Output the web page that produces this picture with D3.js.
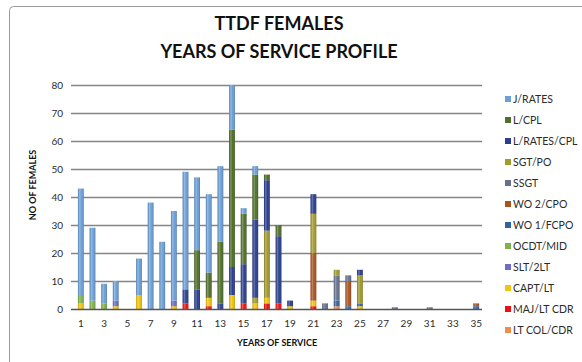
<!DOCTYPE html>
<html>
<head>
<meta charset="utf-8">
<script src="https://cdn.jsdelivr.net/npm/d3@7"></script>
<style>
    body { margin: 0; background: #fff; }
    svg { display: block; font-family: Lato, "Open Sans", sans-serif; }
</style>
</head>
<body>
<svg id="chart" width="582" height="362"></svg>
<script>
// Years of service on the x axis.
let years = d3.range(1, 36);
let xTickYears = d3.range(1, 36, 2);
let yTicks = d3.range(0, 81, 10);

// Ranks, listed as in the legend (top of stack first).
let ranks = ["J/RATES", "L/CPL", "L/RATES/CPL", "SGT/PO", "SSGT", "WO 2/CPO",
    "WO 1/FCPO", "OCDT/MID", "SLT/2LT", "CAPT/LT", "MAJ/LT CDR", "LT COL/CDR"];

let rankColours = ["#6a9fd8", "#4f7029", "#2a3f8f", "#a39a2e", "#66728c", "#a95420",
    "#2f64ad", "#7fb34a", "#6d6dc4", "#f2c40c", "#ee1111", "#ef8d4a"];

// Number of females per year of service (years 1..35) for each rank.
let jRates    = [38, 26, 7, 7, 0, 13, 38, 24, 32, 42, 26, 28, 27, 16, 2, 3, 0, 0, 0, 0, 0, 0, 0, 0, 0, 0, 0, 0, 0, 0, 0, 0, 0, 0, 0];
let lCpl      = [0, 0, 0, 0, 0, 0, 0, 0, 0, 0, 14, 9, 22, 49, 18, 16, 2, 4, 0, 0, 0, 0, 0, 0, 0, 0, 0, 0, 0, 0, 0, 0, 0, 0, 0];
let lRatesCpl = [0, 0, 0, 0, 0, 0, 0, 0, 0, 5, 7, 0, 2, 10, 14, 28, 18, 24, 2, 0, 7, 0, 0, 0, 2, 0, 0, 0, 0, 0, 0, 0, 0, 0, 0];
let sgtPo     = [0, 0, 0, 0, 0, 0, 0, 0, 0, 0, 0, 0, 0, 0, 0, 2, 24, 0, 0, 0, 14, 0, 2, 0, 10, 0, 0, 0, 0, 0, 0, 0, 0, 0, 0];
let ssgt      = [0, 0, 0, 0, 0, 0, 0, 0, 0, 0, 0, 0, 0, 0, 0, 0, 0, 0, 0, 0, 0, 2, 9, 2, 0, 0, 0, 0.6, 0, 0, 0.6, 0, 0, 0, 0];
let wo2Cpo    = [0, 0, 0, 0, 0, 0, 0, 0, 0, 0, 0, 0, 0, 0, 0, 0, 0, 0, 0, 0, 17, 0, 0, 9, 0, 0, 0, 0, 0, 0, 0, 0, 0, 0, 1];
let wo1Fcpo   = [0, 0, 0, 0, 0, 0, 0, 0, 0, 0, 0, 0, 0, 0, 0, 0, 0, 0, 0, 0, 0, 0, 2, 1, 1, 0, 0, 0, 0, 0, 0, 0, 0, 0, 1];
let ocdtMid   = [3, 3, 2, 0, 0, 0, 0, 0, 0, 0, 0, 0, 0, 0, 0, 0, 0, 0, 0, 0, 0, 0, 0, 0, 0, 0, 0, 0, 0, 0, 0, 0, 0, 0, 0];
let slt2Lt    = [0, 0, 0, 2, 0, 0, 0, 0, 2, 0, 0, 0, 0, 0, 0, 0, 0, 0, 0, 0, 0, 0, 0, 0, 0, 0, 0, 0, 0, 0, 0, 0, 0, 0, 0];
let captLt    = [2, 0, 0, 1, 0, 5, 0, 0, 1, 0, 0, 3, 0, 5, 0, 2, 2, 0, 1, 0, 2, 0, 0, 0, 1, 0, 0, 0, 0, 0, 0, 0, 0, 0, 0];
let majLtCdr  = [0, 0, 0, 0, 0, 0, 0, 0, 0, 2, 0, 1, 0, 0, 2, 0, 2, 2, 0, 0, 1, 0, 0, 0, 0, 0, 0, 0, 0, 0, 0, 0, 0, 0, 0];
let ltColCdr  = [0, 0, 0, 0, 0, 0, 0, 0, 0, 0, 0, 0, 0, 0, 0, 0, 0, 0, 0, 0, 0, 0, 1, 0, 0, 0, 0, 0, 0, 0, 0, 0, 0, 0, 0];

let rankValues = [jRates, lCpl, lRatesCpl, sgtPo, ssgt, wo2Cpo,
    wo1Fcpo, ocdtMid, slt2Lt, captLt, majLtCdr, ltColCdr];

// Build one row per year for d3.stack.
let table = years.map(function(year, i) {
    let row = { year: year };
    ranks.forEach(function(rank, r) {
        row[rank] = rankValues[r][i];
    });
    return row;
});

// Display parameters.
let plotLeft = 75;
let plotRight = 482;
let plotTop = 85;
let plotBottom = 309;
let gridColour = "#858585";
let textColour = "#2b2b2b";

let svg = d3.select("#chart");

svg.append("rect")
    .attr("width", 582)
    .attr("height", 362)
    .attr("fill", "#fff");

// Outer chart frame (runs off the right and bottom of the picture).
svg.append("rect")
    .attr("x", 9.5)
    .attr("y", 6.5)
    .attr("width", 640)
    .attr("height", 400)
    .attr("rx", 4)
    .attr("fill", "none")
    .attr("stroke", "#9a9a9a");

// Shading used to give the columns a rounded look.
let defs = svg.append("defs");
let shade = defs.append("linearGradient")
    .attr("id", "shade")
    .attr("x1", "0%").attr("x2", "100%")
    .attr("y1", "0%").attr("y2", "0%");
shade.append("stop").attr("offset", "0%").attr("stop-color", "#000").attr("stop-opacity", 0.12);
shade.append("stop").attr("offset", "30%").attr("stop-color", "#fff").attr("stop-opacity", 0.3);
shade.append("stop").attr("offset", "60%").attr("stop-color", "#fff").attr("stop-opacity", 0);
shade.append("stop").attr("offset", "100%").attr("stop-color", "#000").attr("stop-opacity", 0.25);

// Scales.
let x = d3.scaleBand()
    .domain(years)
    .range([plotLeft, plotRight])
    .paddingInner(0.5)
    .paddingOuter(0.25);

let y = d3.scaleLinear()
    .domain([0, 80])
    .range([plotBottom, plotTop]);

// Horizontal gridlines.
svg.append("g")
    .attr("class", "grid")
    .selectAll("line")
    .data(yTicks.filter(function(d) { return d > 0; }))
    .enter()
    .append("line")
    .attr("x1", plotLeft - 4)
    .attr("x2", plotRight)
    .attr("y1", function(d) { return Math.round(y(d)) + 0.5; })
    .attr("y2", function(d) { return Math.round(y(d)) + 0.5; })
    .attr("stroke", gridColour)
    .attr("stroke-width", 1.3);

// Stack from the bottom rank up to J/RATES.
let stackKeys = ranks.slice().reverse();
let stacked = d3.stack().keys(stackKeys)(table);

let layers = svg.append("g")
    .attr("class", "bars")
    .selectAll("g")
    .data(stacked)
    .enter()
    .append("g")
    .attr("fill", function(d) {
        return rankColours[ranks.indexOf(d.key)];
    });

layers.selectAll("rect.seg")
    .data(function(d) { return d.filter(function(p) { return p[1] > p[0]; }); })
    .enter()
    .append("rect")
    .attr("class", "seg")
    .attr("x", function(d) { return x(d.data.year); })
    .attr("width", x.bandwidth())
    .attr("y", function(d) { return y(d[1]); })
    .attr("height", function(d) { return y(d[0]) - y(d[1]); });

layers.selectAll("rect.gloss")
    .data(function(d) { return d.filter(function(p) { return p[1] > p[0]; }); })
    .enter()
    .append("rect")
    .attr("class", "gloss")
    .attr("x", function(d) { return x(d.data.year); })
    .attr("width", x.bandwidth())
    .attr("y", function(d) { return y(d[1]); })
    .attr("height", function(d) { return y(d[0]) - y(d[1]); })
    .attr("fill", "url(#shade)");

// Zero line.
svg.append("line")
    .attr("x1", plotLeft - 4)
    .attr("x2", plotRight)
    .attr("y1", y(0) + 0.5)
    .attr("y2", y(0) + 0.5)
    .attr("stroke", "#555")
    .attr("stroke-width", 1.3);

// Y axis labels.
svg.append("g")
    .selectAll("text")
    .data(yTicks)
    .enter()
    .append("text")
    .attr("x", 63)
    .attr("y", function(d) { return y(d) + 3.5; })
    .attr("text-anchor", "end")
    .attr("font-size", 10)
    .attr("fill", textColour)
    .text(function(d) { return d; });

// X axis labels, odd years only.
svg.append("g")
    .selectAll("text")
    .data(xTickYears)
    .enter()
    .append("text")
    .attr("x", function(d) { return x(d) + x.bandwidth() / 2; })
    .attr("y", 327)
    .attr("text-anchor", "middle")
    .attr("font-size", 10)
    .attr("fill", textColour)
    .text(function(d) { return d; });

// Titles.
let title = svg.append("text")
    .attr("x", 279)
    .attr("text-anchor", "middle")
    .attr("font-size", 18)
    .attr("font-weight", "bold")
    .attr("fill", "#111");
title.append("tspan").attr("x", 279).attr("y", 30).text("TTDF FEMALES");
title.append("tspan").attr("x", 279).attr("y", 58).text("YEARS OF SERVICE PROFILE");

svg.append("text")
    .attr("x", 277)
    .attr("y", 346)
    .attr("text-anchor", "middle")
    .attr("font-size", 9)
    .attr("font-weight", "bold")
    .attr("fill", "#111")
    .text("YEARS OF SERVICE");

svg.append("text")
    .attr("transform", "translate(36,185) rotate(-90)")
    .attr("text-anchor", "middle")
    .attr("font-size", 9)
    .attr("font-weight", "bold")
    .attr("fill", "#111")
    .text("NO OF FEMALES");

// Legend.
let legend = svg.append("g")
    .attr("class", "legend")
    .selectAll("g")
    .data(ranks)
    .enter()
    .append("g")
    .attr("transform", function(d, i) {
        return `translate(505,${100 + i * 21})`;
    });

legend.append("rect")
    .attr("x", 0)
    .attr("y", -4)
    .attr("width", 6)
    .attr("height", 6)
    .attr("fill", function(d, i) { return rankColours[i]; });

legend.append("text")
    .attr("x", 8)
    .attr("y", 2.5)
    .attr("font-size", 10.5)
    .attr("fill", textColour)
    .text(function(d) { return d; });
</script>
</body>
</html>
